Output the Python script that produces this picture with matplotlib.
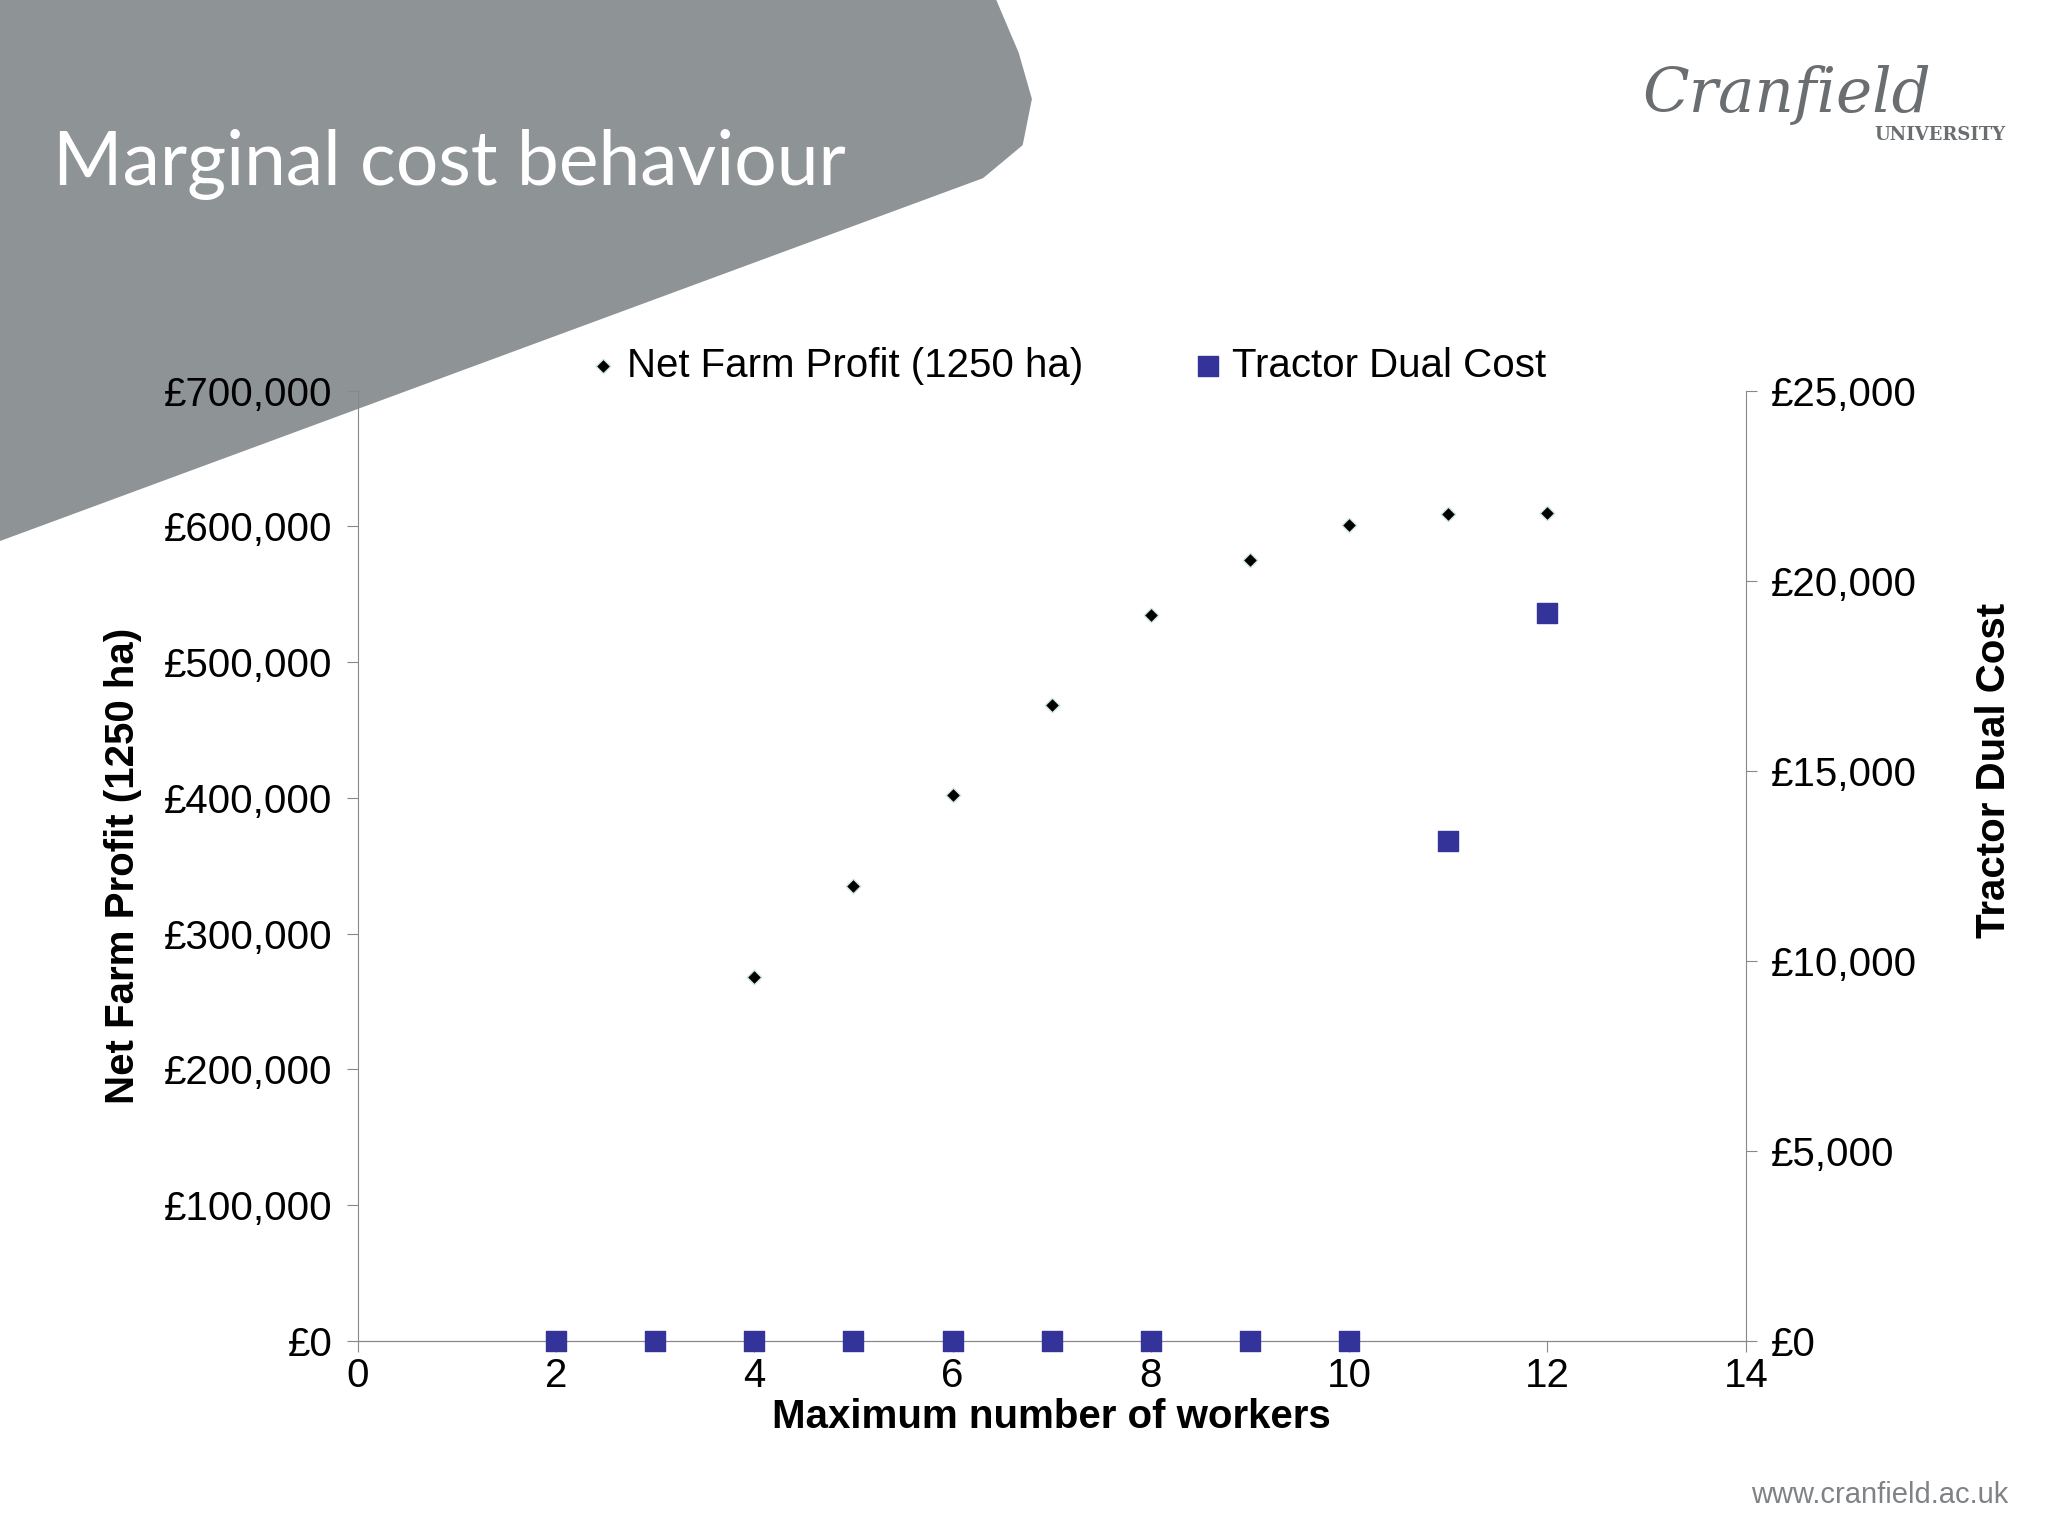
import matplotlib
matplotlib.use("Agg")
import matplotlib.pyplot as plt
from matplotlib.patches import Polygon
from matplotlib.ticker import FuncFormatter

workers_profit = [4, 5, 6, 7, 8, 9, 10, 11, 12]
net_profit = [268000, 335000, 402000, 468000, 535000, 575000, 601000, 609000, 610000]
workers_tractor = [2, 3, 4, 5, 6, 7, 8, 9, 10, 11, 12]
tractor_cost = [0, 0, 0, 0, 0, 0, 0, 0, 0, 13150, 19150]

plt.rcParams["font.family"] = "Liberation Sans"
W, H = 1552, 1164
fig = plt.figure(figsize=(20.48, 15.36), dpi=100)
def P(x, y): return (x / W, 1 - y / H)
poly = Polygon([P(0, 0), P(755, 0), P(772, 40), P(782, 75), P(775, 110), P(745, 135), P(0, 410)],
               closed=True, transform=fig.transFigure, facecolor="#8e9396", edgecolor="none", zorder=-10)
fig.patches.append(poly)
fig.text(*P(40, 125), "Marginal cost behaviour", fontsize=54, color="white", va="center", family="Lato")
fig.text(*P(1245, 72), "Cranfield", fontsize=44, color="#6b6e70", va="center", family="DejaVu Serif", style="italic")
fig.text(*P(1520, 102), "UNIVERSITY", fontsize=13, color="#6b6e70", va="center", ha="right", family="DejaVu Serif", weight="bold")
fig.text(*P(1522, 1133), "www.cranfield.ac.uk", fontsize=21, color="#808386", va="center", ha="right")

ax = fig.add_axes([271 / W, 1 - 1016 / H, (1323 - 271) / W, (1016 - 296) / H])
ax.set_facecolor("none")
ax2 = ax.twinx()
l1 = ax.scatter(workers_profit, net_profit, marker="D", s=55, color="black", edgecolors="#cfe8e0", linewidths=1, zorder=3,
                label="Net Farm Profit (1250 ha)")
l2 = ax2.scatter(workers_tractor, tractor_cost, marker="s", s=190, color="#333399", zorder=3, label="Tractor Dual Cost", clip_on=False)
ax.set_xlim(0, 14); ax.set_ylim(0, 700000); ax2.set_ylim(0, 25000)
ax.set_xticks(range(0, 15, 2))
ax.set_yticks(range(0, 700001, 100000))
ax2.set_yticks(range(0, 25001, 5000))
ax.yaxis.set_major_formatter(FuncFormatter(lambda v, p: f"£{int(v):,}"))
ax2.yaxis.set_major_formatter(FuncFormatter(lambda v, p: f"£{int(v):,}"))
for a in (ax, ax2):
    for s in a.spines.values():
        s.set_color("#888888")
    a.spines["top"].set_visible(False)
    a.tick_params(labelsize=29, color="#888888", length=8, direction="out", pad=10)
ax.spines["right"].set_visible(False)
ax2.spines["left"].set_visible(False)
ax.tick_params(axis="x", pad=4)
ax.set_xlabel("Maximum number of workers", fontsize=29, weight="bold", labelpad=2)
ax.set_ylabel("Net Farm Profit (1250 ha)", fontsize=29, weight="bold")
ax.yaxis.set_label_coords(-0.155, 0.5)
ax2.set_ylabel("Tractor Dual Cost", fontsize=29, weight="bold")
ax2.yaxis.set_label_coords(1.165, 0.6)
fig.legend(handles=[l1, l2], loc="center", bbox_to_anchor=P(805, 277), ncol=2, frameon=False,
           fontsize=29, handletextpad=0.0, handlelength=1.2, columnspacing=2.5, markerscale=1.0)
fig.savefig("out.png")
